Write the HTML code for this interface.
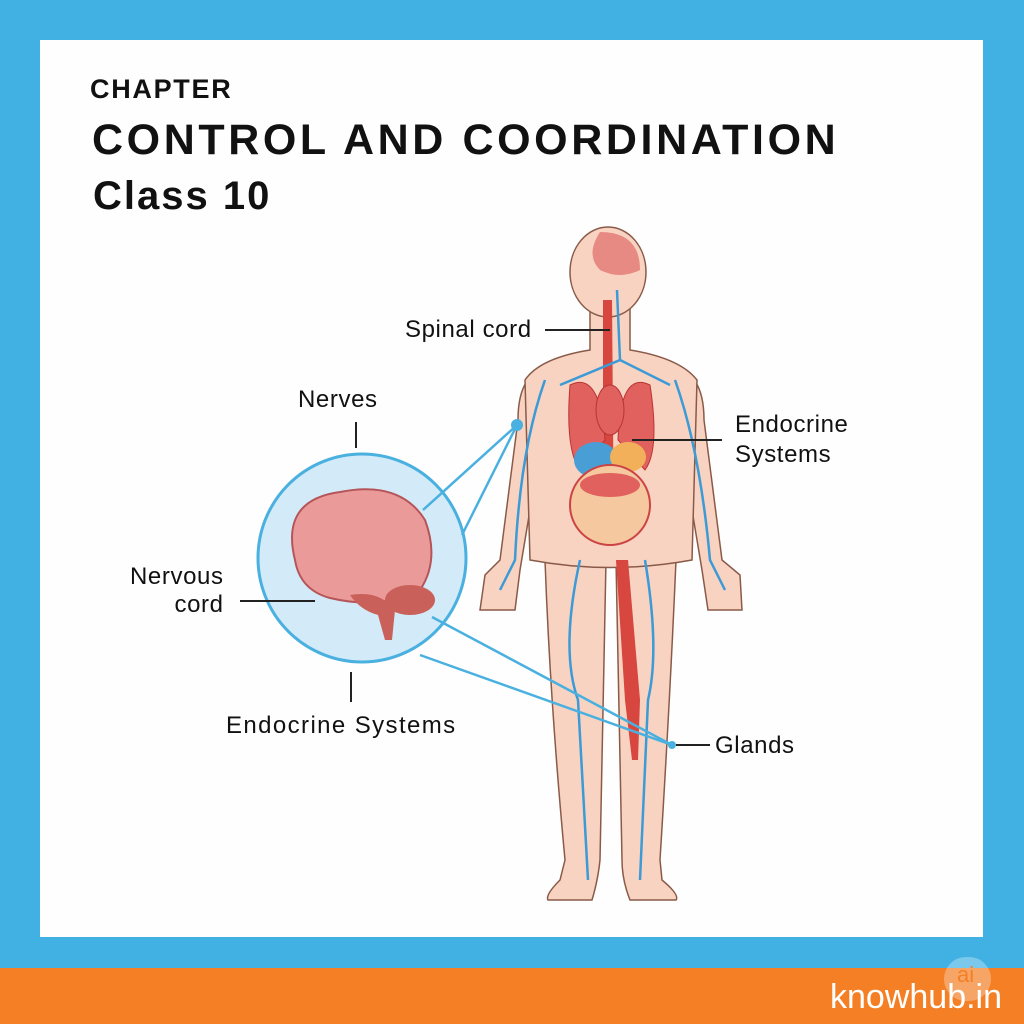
<!DOCTYPE html>
<html><head><meta charset="utf-8"><style>
html,body{margin:0;padding:0}
body{width:1024px;height:1024px;position:relative;background:#41b0e2;overflow:hidden;font-family:"Liberation Sans",sans-serif}
#panel{position:absolute;left:40px;top:40px;width:943px;height:897px;background:#fefefe}
#orange{position:absolute;left:0;top:968px;width:1024px;height:56px;background:#f47f24}
.t{position:absolute;color:#111;white-space:nowrap}
.l{letter-spacing:0.6px}
</style></head><body>
<div id="panel"></div>
<div id="orange"></div>
<div class="t" style="left:90px;top:74px;font-size:27px;font-weight:bold;letter-spacing:1.7px">CHAPTER</div>
<div class="t" style="left:92px;top:116px;font-size:43px;font-weight:bold;letter-spacing:3.6px">CONTROL AND COORDINATION</div>
<div class="t" style="left:93px;top:174px;font-size:40px;font-weight:bold;letter-spacing:2px">Class 10</div>
<svg width="1024" height="1024" style="position:absolute;left:0;top:0">
<g stroke="#8a5a48" stroke-width="1.5" fill="#f8d3c2">
<path d="M560 880 Q545 895 548 900 L592 900 Q598 880 600 860 L606 560 L545 560 Q550 700 565 860 Z"/>
<path d="M662 880 Q680 895 676 900 L630 900 Q622 880 622 860 L616 560 L676 560 Q670 700 660 860 Z"/>
<path d="M540 370 Q518 380 518 420 L500 560 L485 575 L480 610 L515 610 L520 570 L540 450 Z"/>
<path d="M682 370 Q704 380 704 420 L722 560 L740 575 L742 610 L708 610 L702 570 L682 450 Z"/>
<path d="M590 300 L590 350 Q540 358 525 380 L530 560 Q610 575 692 560 L697 380 Q680 358 630 350 L630 300 Z"/>
<ellipse cx="608" cy="272" rx="38" ry="45"/>
</g>
<path d="M600 232 Q640 232 640 270 Q620 280 600 270 Q585 255 600 232Z" fill="#e88a84"/>
<path d="M603 300 L612 300 L614 540 L603 540Z" fill="#d7463f"/>
<g fill="#e0615d" stroke="#b33" stroke-width="1">
<path d="M570 385 Q600 370 605 440 L580 470 Q565 450 570 385Z"/>
<path d="M650 385 Q620 370 618 440 L645 470 Q660 450 650 385Z"/>
<ellipse cx="610" cy="410" rx="14" ry="25"/>
</g>
<ellipse cx="596" cy="460" rx="22" ry="18" fill="#4a9ed6"/>
<ellipse cx="628" cy="457" rx="18" ry="15" fill="#f2b05a"/>
<ellipse cx="610" cy="505" rx="40" ry="40" fill="#f5c8a0" stroke="#c44" stroke-width="2"/>
<ellipse cx="610" cy="485" rx="30" ry="12" fill="#e0615d"/>
<path d="M628 560 L640 700 L638 760 L632 760 L625 700 L616 560Z" fill="#d7463f"/>
<g stroke="#3c9ad6" stroke-width="2.5" fill="none">
<path d="M580 560 Q560 650 578 700 L588 880"/>
<path d="M645 560 Q660 650 648 700 L640 880"/>
<path d="M545 380 Q520 450 515 560 L500 590"/>
<path d="M675 380 Q700 450 710 560 L725 590"/>
<path d="M617 290 L620 360 L560 385 M620 360 L670 385"/>
</g>
<circle cx="362" cy="558" r="104" fill="#d3ebf8" stroke="#4ab0e0" stroke-width="3"/>
<path d="M295 560 Q280 500 340 492 Q400 480 425 520 Q440 560 420 590 Q380 610 330 598 Q300 590 295 560Z" fill="#eb9a9a" stroke="#b5555a" stroke-width="2"/>
<path d="M350 595 Q380 590 395 610 L392 640 L385 640 L378 615 Q360 610 350 595Z" fill="#c9605a"/>
<ellipse cx="410" cy="600" rx="25" ry="15" fill="#c9605a"/>
<g stroke="#4ab0e0" stroke-width="2.5" fill="none">
<path d="M423 510 L517 425 L462 535"/>
<path d="M420 655 L672 745"/>
<path d="M432 617 L672 745"/>
</g>
<circle cx="517" cy="425" r="6" fill="#4ab0e0"/>
<circle cx="672" cy="745" r="4" fill="#4ab0e0"/>
<g stroke="#222" stroke-width="2">
<line x1="545" y1="330" x2="610" y2="330"/>
<line x1="632" y1="440" x2="722" y2="440"/>
<line x1="356" y1="422" x2="356" y2="448"/>
<line x1="240" y1="601" x2="315" y2="601"/>
<line x1="351" y1="672" x2="351" y2="702"/>
<line x1="676" y1="745" x2="710" y2="745"/>
</g>
</svg>
<div class="t l" style="left:405px;top:316px;font-size:24px">Spinal cord</div>
<div class="t l" style="left:298px;top:386px;font-size:24px">Nerves</div>
<div class="t l" style="left:735px;top:410px;font-size:24px;line-height:30px">Endocrine<br>Systems</div>
<div class="t l" style="left:130px;top:563px;font-size:24px;line-height:28px;text-align:right">Nervous<br><span style="padding-left:40px">cord</span></div>
<div class="t" style="left:226px;top:712px;font-size:24px;letter-spacing:1.4px">Endocrine Systems</div>
<div class="t l" style="left:715px;top:732px;font-size:24px">Glands</div>
<div style="position:absolute;left:944px;top:957px;width:47px;height:44px;border-radius:22px;background:rgba(255,255,255,0.3)"></div>
<div class="t" style="left:957px;top:962px;font-size:22px;color:#f47f24">ai</div>
<div class="t" style="left:830px;top:978px;font-size:34px;color:#fff">knowhub.in</div>
</body></html>
